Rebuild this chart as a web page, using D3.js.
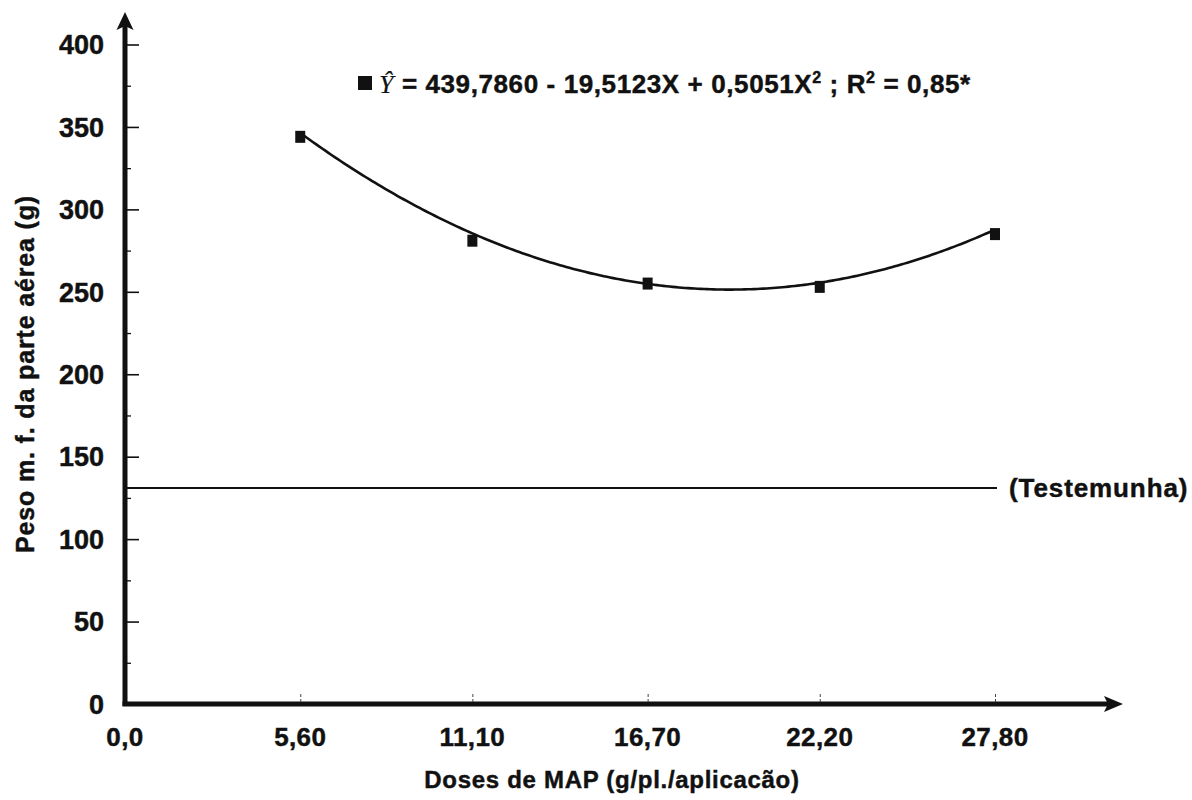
<!DOCTYPE html>
<html>
<head>
<meta charset="utf-8">
<script src="https://cdn.jsdelivr.net/npm/d3@7"></script>
<style>
  html, body { margin: 0; padding: 0; background: #fff; }
  svg { display: block; }
  text { font-family: "Liberation Sans", Arial, Helvetica, sans-serif; font-weight: bold; fill: #111; stroke: #111; stroke-width: 0.45px; }
</style>
</head>
<body>
<svg id="chart" width="1192" height="800"></svg>
<script>
// Doses of MAP (g/plant/application) and measured fresh shoot weight (g)
const doses = [5.6, 11.1, 16.7, 22.2, 27.8];
const weights = [344, 281, 255, 253, 285];

// Fitted quadratic shown in the legend: Y = b0 + b1*X + b2*X^2
const coefficients = [439.7860, -19.5123, 0.5051];
const coefficientLabels = ["439,7860", "19,5123", "0,5051"];
const rSquared = "0,85*";

// Control (no MAP) reference level
const controlWeight = [131];

// Tick labels
const xTickValues = [0, 5.6, 11.1, 16.7, 22.2, 27.8];
const xTickLabels = ["0,0", "5,60", "11,10", "16,70", "22,20", "27,80"];
const yMajorTicks = [0, 50, 100, 150, 200, 250, 300, 350, 400];
const yMinorTicks = [25, 75, 125, 175, 225, 275, 325, 375];

const svg = d3.select("#chart");

const x = d3.scaleLinear().domain([0, 27.8]).range([125, 995]);
const y = d3.scaleLinear().domain([0, 400]).range([704, 44.5]);

const ink = "#111";

// ---- Y axis: thick line with arrow, major/minor ticks pointing inward
svg.append("line")
  .attr("x1", x(0)).attr("x2", x(0))
  .attr("y1", y(0) + 2).attr("y2", 24)
  .attr("stroke", ink).attr("stroke-width", 5);
svg.append("path")
  .attr("d", `M${x(0)},12 L${x(0) - 8.5},30 L${x(0)},26 L${x(0) + 8.5},30 Z`)
  .attr("fill", ink);

const yAxisMajor = d3.axisRight(y).tickValues(yMajorTicks).tickSize(14).tickFormat("");
const gyMajor = svg.append("g").attr("transform", `translate(${x(0)},0)`).call(yAxisMajor);
gyMajor.select(".domain").remove();
gyMajor.selectAll("line").attr("stroke", ink).attr("stroke-width", 1.6);

const yAxisMinor = d3.axisRight(y).tickValues(yMinorTicks).tickSize(6).tickFormat("");
const gyMinor = svg.append("g").attr("transform", `translate(${x(0)},0)`).call(yAxisMinor);
gyMinor.select(".domain").remove();
gyMinor.selectAll("line").attr("stroke", ink).attr("stroke-width", 1.3);

// y tick labels
svg.append("g").selectAll("text")
  .data(yMajorTicks)
  .join("text")
  .attr("x", 104)
  .attr("y", d => y(d))
  .attr("dy", "0.36em")
  .attr("text-anchor", "end")
  .attr("font-size", 27)
  .text(d => d);

// ---- X axis: thick line with arrow, short ticks upward
svg.append("line")
  .attr("x1", x(0) - 2.5).attr("x2", 1110)
  .attr("y1", y(0)).attr("y2", y(0))
  .attr("stroke", ink).attr("stroke-width", 5);
svg.append("path")
  .attr("d", `M1123,${y(0)} L1104,${y(0) - 8} L1108,${y(0)} L1104,${y(0) + 8} Z`)
  .attr("fill", ink);

const xAxis = d3.axisTop(x).tickValues(xTickValues.slice(1)).tickSize(9).tickFormat("");
const gx = svg.append("g").attr("transform", `translate(0,${y(0) - 2})`).call(xAxis);
gx.select(".domain").remove();
gx.selectAll("line").attr("stroke", "#444").attr("stroke-width", 1).attr("stroke-dasharray", "3,2");

svg.append("g").selectAll("text")
  .data(xTickValues)
  .join("text")
  .attr("x", d => x(d))
  .attr("y", 746)
  .attr("text-anchor", "middle")
  .attr("font-size", 26)
  .attr("letter-spacing", 0.4)
  .text((d, i) => xTickLabels[i]);

// ---- Axis titles
svg.append("text")
  .attr("x", 612)
  .attr("y", 788)
  .attr("text-anchor", "middle")
  .attr("font-size", 24)
  .attr("letter-spacing", 0.7)
  .text("Doses de MAP (g/pl./aplicacão)");

svg.append("text")
  .attr("transform", "translate(34,374) rotate(-90)")
  .attr("text-anchor", "middle")
  .attr("font-size", 25)
  .attr("letter-spacing", 0.85)
  .text("Peso m. f. da parte aérea (g)");

// ---- Control line
svg.append("line")
  .attr("x1", x(0)).attr("x2", 997)
  .attr("y1", y(controlWeight[0])).attr("y2", y(controlWeight[0]))
  .attr("stroke", ink).attr("stroke-width", 2);
svg.append("text")
  .attr("x", 1009)
  .attr("y", y(controlWeight[0]) + 9)
  .attr("font-size", 26)
  .attr("letter-spacing", 0.9)
  .text("(Testemunha)");

// ---- Fitted regression curve over the tested dose range
const fitted = X => coefficients[0] + coefficients[1] * X + coefficients[2] * X * X;
const curveXs = d3.range(doses[0], doses[doses.length - 1] + 0.001, 0.1);
svg.append("path")
  .datum(curveXs)
  .attr("fill", "none")
  .attr("stroke", ink)
  .attr("stroke-width", 2.6)
  .attr("d", d3.line().x(d => x(d)).y(d => y(fitted(d))));

// ---- Observed means as square markers
svg.append("g").selectAll("rect")
  .data(doses)
  .join("rect")
  .attr("x", d => x(d) - 5)
  .attr("y", (d, i) => y(weights[i]) - 6)
  .attr("width", 10)
  .attr("height", 12)
  .attr("fill", ink);

// ---- Equation legend
svg.append("rect")
  .attr("x", 358).attr("y", 76).attr("width", 14).attr("height", 14)
  .attr("fill", ink);

const eq = svg.append("text")
  .attr("x", 379)
  .attr("y", 93)
  .attr("font-size", 26)
  .attr("letter-spacing", 0.6);
eq.append("tspan")
  .attr("font-family", "'Liberation Serif', 'Times New Roman', serif")
  .attr("font-style", "italic")
  .attr("font-weight", "normal")
  .attr("stroke-width", 0.2)
  .text("Ŷ");
eq.append("tspan").text(` = ${coefficientLabels[0]} - ${coefficientLabels[1]}X + ${coefficientLabels[2]}X`);
eq.append("tspan").attr("font-size", 16).attr("dy", -10).text("2");
eq.append("tspan").attr("dy", 10).text(" ; R");
eq.append("tspan").attr("font-size", 16).attr("dy", -10).text("2");
eq.append("tspan").attr("dy", 10).text(` = ${rSquared}`);
</script>
</body>
</html>
